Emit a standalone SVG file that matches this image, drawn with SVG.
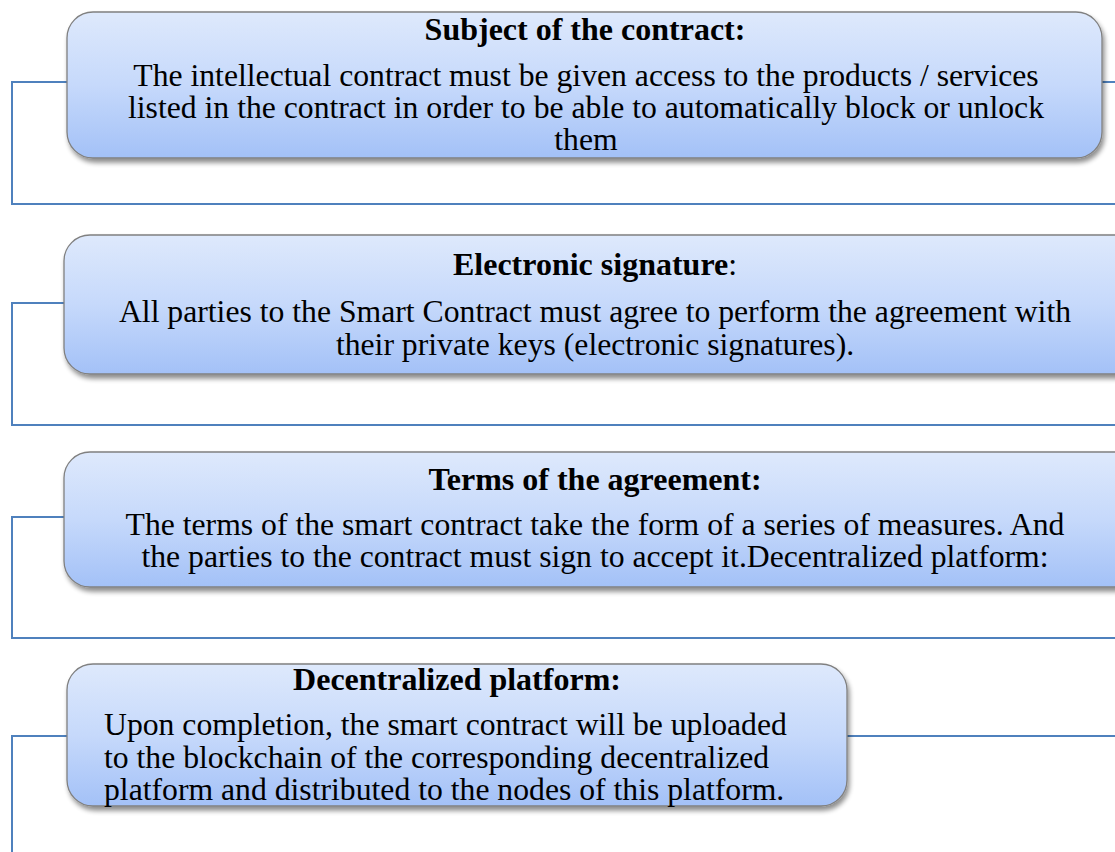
<svg xmlns="http://www.w3.org/2000/svg" width="1115" height="852" viewBox="0 0 1115 852">
<defs>
<linearGradient id="g" x1="0" y1="0" x2="0" y2="1">
<stop offset="0" stop-color="#dee9fc"/>
<stop offset="0.5" stop-color="#c6d9fb"/>
<stop offset="1" stop-color="#a3c1f7"/>
</linearGradient>
<filter id="sh" x="-5%" y="-10%" width="110%" height="130%">
<feGaussianBlur in="SourceAlpha" stdDeviation="2.5"/>
<feOffset dx="2" dy="4" result="b"/>
<feComponentTransfer><feFuncA type="linear" slope="0.45"/></feComponentTransfer>
<feMerge><feMergeNode/><feMergeNode in="SourceGraphic"/></feMerge>
</filter>
</defs>
<style>
.box{fill:url(#g);stroke:#808080;stroke-width:1.3;filter:url(#sh)}
.conn{fill:none;stroke:#4f81bd;stroke-width:2}
text{font-family:"Liberation Serif","Times New Roman",serif;font-size:31.7px;fill:#000}
.t{font-weight:bold;font-size:32px}
.c{text-anchor:middle}
</style>
<rect width="1115" height="852" fill="#fff"/>
<g id="connectors">
<path class="conn" d="M67,82 H12 V204 H1115"/>
<path class="conn" d="M1102,82 H1115"/>
<path class="conn" d="M64,303 H12 V425 H1115"/>
<path class="conn" d="M64,517 H12 V638 H1115"/>
<path class="conn" d="M67,736 H12 V852"/>
<path class="conn" d="M847,736 H1115"/>
</g>
<g id="node1">
<rect class="box" x="67" y="12" width="1035" height="146" rx="26"/>
<text class="c t" x="585" y="40">Subject of the contract:</text>
<text class="c" x="586" y="86">The intellectual contract must be given access to the products / services</text>
<text class="c" x="586" y="118">listed in the contract in order to be able to automatically block or unlock</text>
<text class="c" x="586" y="150">them</text>
</g>
<g id="node2">
<rect class="box" x="64" y="235" width="1080" height="139" rx="26"/>
<text class="c" x="595" y="275"><tspan class="t">Electronic signature</tspan>:</text>
<text class="c" x="595" y="322">All parties to the Smart Contract must agree to perform the agreement with</text>
<text class="c" x="595" y="355">their private keys (electronic signatures).</text>
</g>
<g id="node3">
<rect class="box" x="64" y="452" width="1080" height="135" rx="26"/>
<text class="c t" x="595" y="490">Terms of the agreement:</text>
<text class="c" x="595" y="535">The terms of the smart contract take the form of a series of measures. And</text>
<text class="c" x="595" y="567">the parties to the contract must sign to accept it.Decentralized platform:</text>
</g>
<g id="node4">
<rect class="box" x="67" y="664" width="780" height="142" rx="26"/>
<text class="c t" x="457" y="690">Decentralized platform:</text>
<text x="104" y="735">Upon completion, the smart contract will be uploaded</text>
<text x="104" y="768">to the blockchain of the corresponding decentralized</text>
<text x="104" y="800">platform and distributed to the nodes of this platform.</text>
</g>
</svg>
